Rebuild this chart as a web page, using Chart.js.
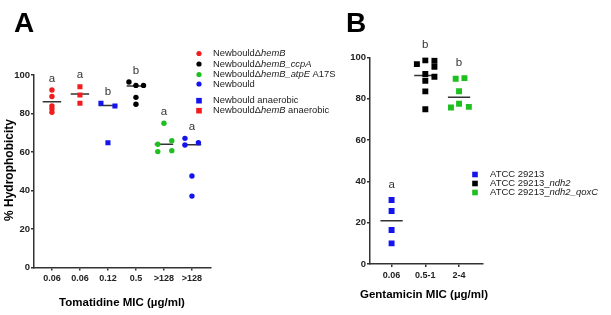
<!DOCTYPE html>
<html>
<head>
<meta charset="utf-8">
<script src="https://cdn.jsdelivr.net/npm/chart.js@4.4.0/dist/chart.umd.min.js"></script>
<style>
  body { margin: 0; background: #fff; }
  .panel { position: absolute; top: 0; }
</style>
</head>
<body>
<div class="panel" style="left:0"><canvas id="chartA" width="340" height="315"></canvas></div>
<div class="panel" style="left:340px"><canvas id="chartB" width="271" height="315"></canvas></div>
<script>
// ---- panel A data ----
const catsA = ["0.06", "0.06", "0.12", "0.5", ">128", ">128"];
const hemB = [92.2, 88.8, 83.9, 82.3, 80.6];
const hemBAnaer = [93.9, 89.6, 85.3];
const newbouldAnaer = [85.3, 83.9, 64.8];
const ccpA = [96.4, 94.6, 94.6, 88.4, 84.8];
const atpE = [74.9, 65.9, 64.0, 60.7, 60.2];
const newbould = [67.1, 64.8, 63.6, 47.5, 37.1];
const spreadA = [[0, 0, 0, 0, 0], [0, 0, 0], [-0.25, 0.25, 0], [-0.25, 0, 0.27, 0, 0], [0, 0.28, -0.22, 0.28, -0.22], [-0.25, 0.23, -0.25, 0, 0]];
const medianA = [86.1, 90.1, 84.1, 94.3, 64.0, 63.8];
const lettersA = ["a", "a", "b", "b", "a", "a"];
const legendA = ["Newbould\u0394*hemB*", "Newbould\u0394*hemB_ccpA*", "Newbould\u0394*hemB_atpE* A17S", "Newbould", "Newbould anaerobic", "Newbould\u0394*hemB* anaerobic"];

// ---- panel B data ----
const catsB = ["0.06", "0.5-1", "2-4"];
const atcc = [31.0, 25.7, 16.5, 10.0];
const ndh2 = [98.7, 98.4, 96.8, 95.5, 92.0, 90.7, 88.7, 83.6, 74.9];
const qoxC = [90.0, 89.7, 83.7, 77.6, 76.1, 75.8];
const spreadB = [[0, 0, 0, 0], [0, 0.27, -0.25, 0.27, 0, 0.27, 0, 0, 0], [0.16, -0.1, 0, 0, 0.29, -0.24]];
const medianB = [21.0, 91.3, 80.7];
const lettersB = ["a", "b", "b"];
const legendB = ["ATCC 29213", "ATCC 29213_*ndh2*", "ATCC 29213_*ndh2_qoxC*"];

const RED = "#f31b1b", BLUE = "#1414ee", GREEN = "#1fbf1f", BLACK = "#000";
const FONT = "'Liberation Sans', Arial, sans-serif";
Chart.defaults.font.family = FONT;

const groupsA = [
  {vals: hemB, color: RED, shape: "circle"},
  {vals: hemBAnaer, color: RED, shape: "rect"},
  {vals: newbouldAnaer, color: BLUE, shape: "rect"},
  {vals: ccpA, color: BLACK, shape: "circle"},
  {vals: atpE, color: GREEN, shape: "circle"},
  {vals: newbould, color: BLUE, shape: "circle"}
];
const groupsB = [
  {vals: atcc, color: BLUE, shape: "rect"},
  {vals: ndh2, color: BLACK, shape: "rect"},
  {vals: qoxC, color: GREEN, shape: "rect"}
];

function buildSets(groups, spread, medians, halfW, circleR, rectR) {
  const sets = [];
  medians.forEach(function(m, i) {
    sets.push({
      type: "line",
      data: [{x: i - halfW, y: m}, {x: i + halfW, y: m}],
      borderColor: "#333", borderWidth: 1.5, pointRadius: 0, order: 2
    });
  });
  groups.forEach(function(g, i) {
    sets.push({
      data: g.vals.map(function(v, k) { return {x: i + spread[i][k], y: v}; }),
      pointStyle: g.shape,
      pointRadius: g.shape == "rect" ? rectR : circleR,
      backgroundColor: g.color, borderColor: g.color, borderWidth: 0,
      order: 1
    });
  });
  return sets;
}

function scalesFor(cats, xmin, xmax, yWidth, xHeight) {
  return {
    x: {
      type: "linear", min: xmin, max: xmax,
      afterBuildTicks: function(s) { s.ticks = cats.map(function(c, i) { return {value: i}; }); },
      afterFit: function(s) { s.height = xHeight; },
      ticks: {
        callback: function(v) { return cats[v]; },
        autoSkip: false, maxRotation: 0, padding: 3,
        color: "#222", font: {size: 9, weight: "bold"}
      },
      grid: {drawOnChartArea: false, tickLength: 3, color: "#333", lineWidth: 1.5},
      border: {color: "#333", width: 1.5}
    },
    y: {
      min: 0, max: 100,
      afterFit: function(s) { s.width = yWidth; },
      ticks: {stepSize: 20, padding: 1, color: "#222", font: {size: 9.5, weight: "bold"}},
      grid: {drawOnChartArea: false, tickLength: 3, color: "#333", lineWidth: 1.5},
      border: {color: "#333", width: 1.5}
    }
  };
}

function drawRich(ctx, str, x, y, size) {
  const parts = str.split("*");
  parts.forEach(function(p, k) {
    ctx.font = (k % 2 ? "italic " : "") + size + "px " + FONT;
    ctx.fillText(p, x, y);
    x += ctx.measureText(p).width;
  });
}

function drawMarker(ctx, shape, color, x, y, r) {
  ctx.fillStyle = color;
  ctx.beginPath();
  if (shape == "rect") ctx.rect(x - r, y - r, 2 * r, 2 * r);
  else ctx.arc(x, y, r, 0, Math.PI * 2);
  ctx.fill();
}

function drawLetters(ctx, chart, groups, letters, lift) {
  const xs = chart.scales.x, ys = chart.scales.y;
  ctx.font = "11.5px " + FONT;
  ctx.fillStyle = "#333";
  ctx.textAlign = "center";
  ctx.textBaseline = "middle";
  groups.forEach(function(g, i) {
    ctx.fillText(letters[i], xs.getPixelForValue(i), ys.getPixelForValue(Math.max.apply(null, g.vals)) - lift);
  });
}

const decorA = {
  id: "decorA",
  afterDraw: function(chart) {
    const ctx = chart.ctx;
    ctx.save();
    drawLetters(ctx, chart, groupsA, lettersA, 11.5);
    ctx.fillStyle = "#000";
    ctx.textAlign = "left";
    ctx.textBaseline = "alphabetic";
    ctx.font = "bold 28px " + FONT;
    ctx.fillText("A", 14, 32);
    ctx.textAlign = "center";
    ctx.textBaseline = "middle";
    ctx.font = "bold 11.5px " + FONT;
    ctx.fillText("Tomatidine MIC (\u00b5g/ml)", 122, 303);
    ctx.save();
    ctx.translate(10, 170);
    ctx.rotate(-Math.PI / 2);
    ctx.font = "bold 12px " + FONT;
    ctx.fillText("% Hydrophobicity", 0, 0);
    ctx.restore();
    // legend
    const rows = [53.5, 64, 74.5, 84, 100.7, 110.7];
    const marks = [[RED, "circle"], [BLACK, "circle"], [GREEN, "circle"], [BLUE, "circle"], [BLUE, "rect"], [RED, "rect"]];
    ctx.textAlign = "left";
    rows.forEach(function(y, i) {
      drawMarker(ctx, marks[i][1], marks[i][0], 199, y, marks[i][1] == "rect" ? 2.8 : 2.6);
      ctx.fillStyle = "#222";
      drawRich(ctx, legendA[i], 213, y, 9.4);
    });
    ctx.restore();
  }
};

const decorB = {
  id: "decorB",
  afterDraw: function(chart) {
    const ctx = chart.ctx;
    ctx.save();
    drawLetters(ctx, chart, groupsB, lettersB, 15);
    ctx.fillStyle = "#000";
    ctx.textAlign = "left";
    ctx.textBaseline = "alphabetic";
    ctx.font = "bold 28px " + FONT;
    ctx.fillText("B", 6, 32);
    ctx.textAlign = "center";
    ctx.textBaseline = "middle";
    ctx.font = "bold 11.5px " + FONT;
    ctx.fillText("Gentamicin MIC (\u00b5g/ml)", 84, 295);
    const rows = [174.5, 183.5, 192.5];
    const cols = [BLUE, BLACK, GREEN];
    ctx.textAlign = "left";
    rows.forEach(function(y, i) {
      drawMarker(ctx, "rect", cols[i], 135, y, 2.8);
      ctx.fillStyle = "#222";
      drawRich(ctx, legendB[i], 150, y, 9.5);
    });
    ctx.restore();
  }
};

new Chart("chartA", {
  type: "scatter",
  data: {datasets: buildSets(groupsA, spreadA, medianA, 0.33, 2.7, 3.6)},
  options: {
    responsive: false, animation: false,
    layout: {padding: {left: 0, right: 129, top: 75, bottom: 0}},
    plugins: {legend: {display: false}, tooltip: {enabled: false}},
    scales: scalesFor(catsA, -0.64, 5.68, 34, 47.5)
  },
  plugins: [decorA]
});

new Chart("chartB", {
  type: "scatter",
  data: {datasets: buildSets(groupsB, spreadB, medianB, 0.33, 2.7, 4.2)},
  options: {
    responsive: false, animation: false,
    layout: {padding: {left: 0, right: 128, top: 57.5, bottom: 0}},
    plugins: {legend: {display: false}, tooltip: {enabled: false}},
    scales: scalesFor(catsB, -0.64, 2.71, 30, 51)
  },
  plugins: [decorB]
});
</script>
</body>
</html>
